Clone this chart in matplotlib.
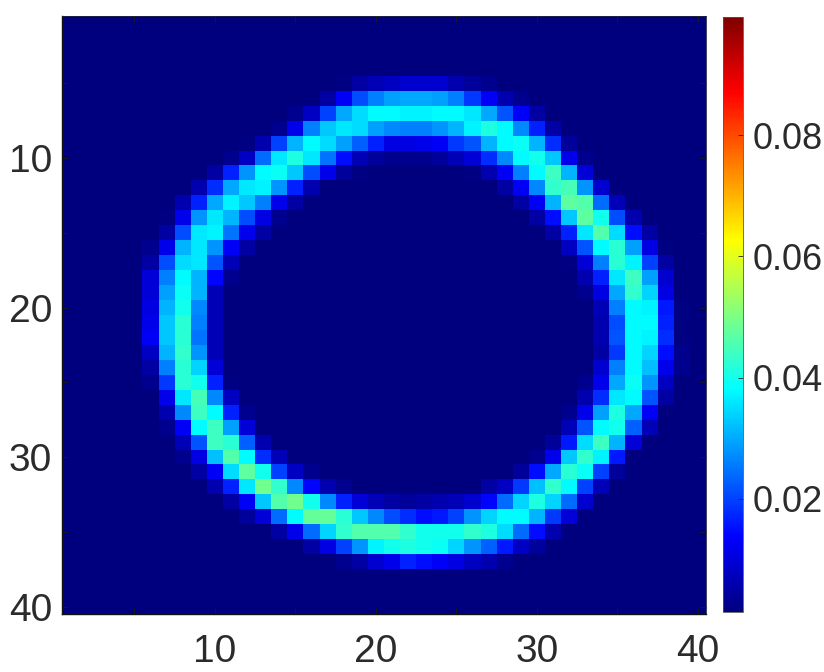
import numpy as np
import matplotlib
matplotlib.use("Agg")
import matplotlib.pyplot as plt
from matplotlib.colors import LinearSegmentedColormap

plt.rcParams['font.family'] = ['Liberation Sans', 'DejaVu Sans']

# Heatmap values in units of 0.001; first listed row is row 5
first_row = 5
grid_size = 40
background = 1
left_start = [18, 17, 15, 14, 12, 11, 10, 9, 8, 7, 7, 6, 6, 6, 6, 6, 6, 6, 6, 6, 6,
              7, 7, 7, 8, 8, 9, 10, 11, 12, 14, 16, 18]
left_vals = [
    [2, 5, 7, 8, 9],
    [5, 13, 21, 26, 29, 30],
    [3, 8, 20, 30, 35, 38, 38, 37],
    [3, 12, 26, 33, 36, 35, 29, 27, 26],
    [2, 6, 20, 31, 38, 35, 29, 23, 17, 11, 11],
    [3, 8, 24, 36, 41, 36, 25, 15, 7, 4, 3, 3],
    [5, 17, 28, 38, 39, 33, 21, 12, 4, 2],
    [6, 18, 30, 36, 37, 28, 17, 6],
    [6, 17, 30, 37, 33, 26, 12, 5],
    [2, 12, 28, 36, 31, 21, 11, 3],
    [5, 21, 36, 37, 25, 12, 5],
    [3, 12, 31, 36, 28, 13, 5],
    [5, 21, 35, 36, 22, 7],
    [10, 26, 38, 31, 14, 3],
    [10, 29, 39, 31, 7],
    [11, 31, 40, 27, 7],
    [12, 33, 42, 26, 7],
    [13, 33, 42, 25, 7],
    [8, 31, 43, 28, 7],
    [5, 26, 42, 34, 10],
    [3, 19, 42, 40, 17, 2],
    [12, 36, 45, 27, 8],
    [6, 27, 44, 38, 17, 3],
    [3, 13, 38, 44, 29, 10],
    [7, 22, 44, 42, 23, 6],
    [3, 11, 32, 46, 38, 18, 7],
    [5, 13, 35, 47, 40, 20, 8, 3],
    [6, 17, 36, 49, 43, 27, 14, 6, 3],
    [5, 13, 33, 46, 49, 40, 27, 17, 10, 7, 5, 4],
    [4, 10, 24, 38, 48, 48, 42, 33, 27, 21, 18],
    [5, 12, 24, 34, 43, 46, 46, 46, 43],
    [5, 11, 20, 28, 37, 40, 41],
    [3, 5, 9, 12, 17],
]
right_start = [23, 23, 23, 23, 23, 23, 26, 28, 29, 30, 31, 32, 32, 33, 33, 34, 34, 34, 34, 34, 33,
               33, 32, 32, 31, 30, 29, 27, 23, 23, 23, 23, 23]
right_vals = [
    [9, 9, 6, 4, 3],
    [30, 29, 26, 19, 13, 6, 3],
    [37, 38, 38, 36, 30, 22, 13, 5],
    [26, 28, 31, 37, 41, 38, 27, 17, 5],
    [12, 13, 19, 22, 31, 38, 39, 31, 18, 4],
    [3, 4, 7, 10, 18, 27, 38, 40, 33, 12, 3],
    [2, 6, 13, 26, 38, 44, 31, 10],
    [5, 13, 27, 43, 45, 28, 9],
    [5, 13, 31, 47, 46, 24, 7],
    [5, 15, 33, 47, 40, 21, 6],
    [5, 17, 36, 46, 35, 15, 5],
    [8, 22, 38, 42, 29, 11, 2],
    [2, 10, 26, 42, 37, 20, 5],
    [6, 17, 36, 44, 29, 9],
    [3, 11, 30, 43, 34, 11],
    [7, 26, 38, 37, 16, 2],
    [6, 21, 38, 38, 17, 2],
    [6, 22, 38, 37, 18, 2],
    [5, 19, 38, 34, 15, 3],
    [9, 26, 38, 32, 12, 3],
    [3, 12, 30, 39, 28, 8],
    [6, 18, 36, 38, 22, 5],
    [3, 12, 29, 41, 30, 13],
    [7, 22, 38, 40, 23, 7],
    [4, 16, 35, 44, 31, 10],
    [3, 12, 33, 43, 37, 16],
    [4, 15, 30, 42, 39, 20, 4],
    [5, 8, 19, 32, 43, 38, 20, 7],
    [5, 6, 7, 9, 14, 24, 34, 41, 34, 24, 9],
    [15, 16, 20, 28, 34, 38, 38, 31, 19, 10],
    [40, 40, 40, 43, 41, 35, 24, 15, 6],
    [40, 39, 34, 28, 23, 16, 8, 4],
    [15, 13, 11, 8, 6, 3],
]
x_ticks = [5, 10, 15, 20, 25, 30, 35, 40]
x_labels = ['', '10', '', '20', '', '30', '', '40']
y_ticks = [5, 10, 15, 20, 25, 30, 35, 40]
y_labels = ['', '10', '', '20', '', '30', '', '40']
cbar_ticks = [0.02, 0.04, 0.06, 0.08]
cbar_labels = ['0.02', '0.04', '0.06', '0.08']
value_min = 0.0013
value_max = 0.0995

# Colormap with the stops of the reference colour bar
cmap_stops = [(0.0, (0, 0, 0.5)), (0.125, (0, 0, 1)), (0.375, (0, 1, 1)),
              (0.625, (1, 1, 0)), (0.875, (1, 0, 0)), (1.0, (0.5, 0, 0))]
ref_jet = LinearSegmentedColormap.from_list('ref_jet', cmap_stops, N=256)

grid = np.full((grid_size, grid_size), float(background))
for i, (ls, lv, rs, rv) in enumerate(zip(left_start, left_vals, right_start, right_vals)):
    r = first_row - 1 + i
    grid[r, ls - 1:ls - 1 + len(lv)] = lv
    grid[r, rs - 1:rs - 1 + len(rv)] = rv
grid = grid * 0.001

W, H = 824, 672
fig = plt.figure(figsize=(W / 100, H / 100), dpi=100)
ax = fig.add_axes([62 / W, (H - 614) / H, 644 / W, 598 / H])
im = ax.imshow(grid, cmap=ref_jet, vmin=value_min, vmax=value_max, aspect='auto',
               interpolation='nearest', extent=(0.5, 40.5, 40.5, 0.5))
text_color = '#2b2b2b'
ax.set_xticks(x_ticks, x_labels)
ax.set_yticks(y_ticks, y_labels)
ax.tick_params(axis='both', direction='in', length=4.3, width=0.7, color='#1a1a1a',
               labelsize=28, labelcolor=text_color, top=True, right=True)
ax.tick_params(axis='x', pad=14.5)
ax.tick_params(axis='y', pad=7)
for s in ['top', 'right']:
    ax.spines[s].set_linewidth(0.6)
    ax.spines[s].set_color('#222244')
for s in ['left', 'bottom']:
    ax.spines[s].set_linewidth(1.0)
    ax.spines[s].set_color('#111111')

cax = fig.add_axes([723 / W, (H - 612) / H, 19.5 / W, 595 / H])
cb = fig.colorbar(im, cax=cax)
cb.set_ticks(cbar_ticks, labels=cbar_labels)
cb.ax.tick_params(direction='in', length=3.5, width=0.6, color='#262626',
                  labelsize=26, labelcolor=text_color, pad=7)
cb.outline.set_linewidth(0.6)
cb.outline.set_edgecolor('#555555')

fig.savefig('out.png', dpi=100)
